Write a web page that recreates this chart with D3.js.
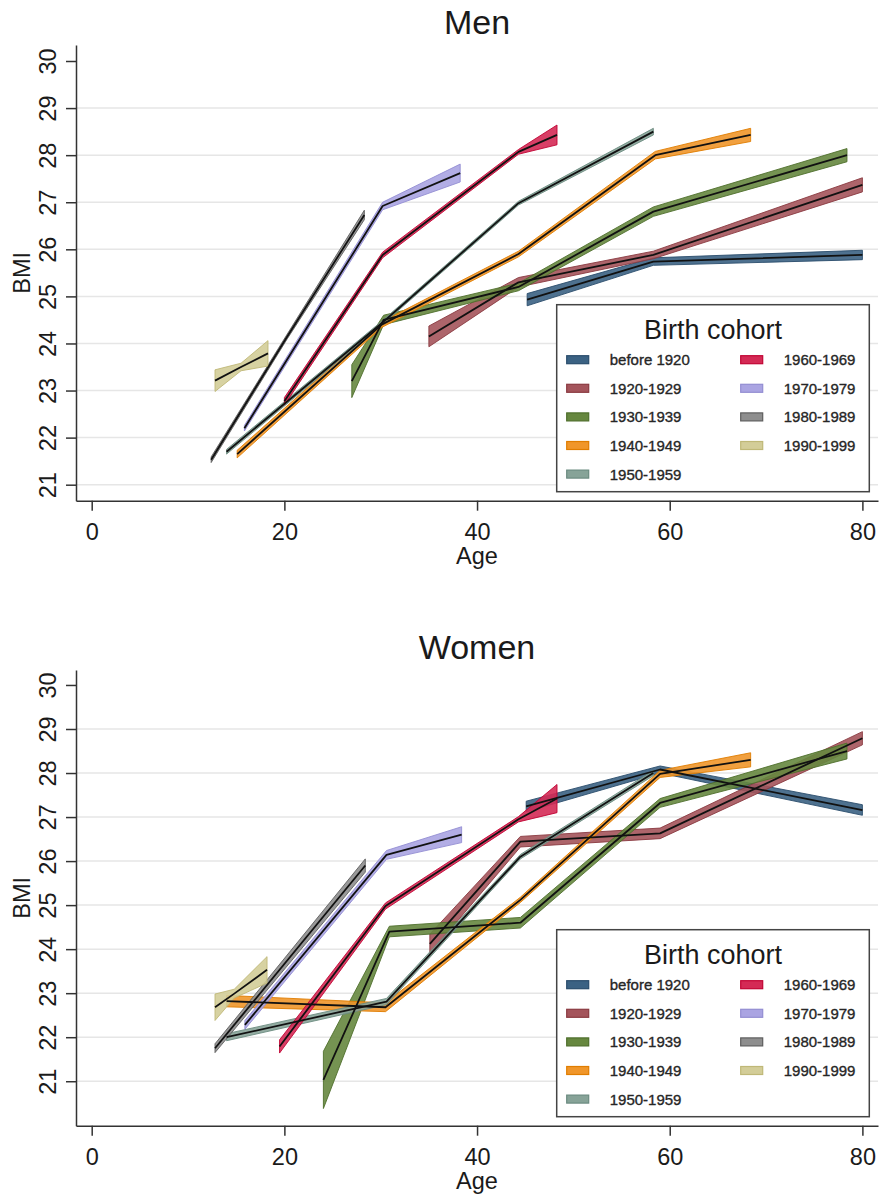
<!DOCTYPE html>
<html>
<head>
<meta charset="utf-8">
<script src="https://cdn.jsdelivr.net/npm/d3@7"></script>
<style>
  body { margin: 0; background: #fff; }
  text { font-family: "Liberation Sans", Arial, sans-serif; fill: #1a1a1a; }
</style>
</head>
<body>
<svg id="chart" width="882" height="1197"></svg>
<script>
// Birth cohorts and their colours
const cohorts = ["before 1920", "1920-1929", "1930-1939", "1940-1949", "1950-1959",
                 "1960-1969", "1970-1979", "1980-1989", "1990-1999"];
const cohortFill = ["#3b6283", "#a4545b", "#66873f", "#f0962a", "#87a398",
                    "#d42a55", "#aaa4e2", "#8e8e8e", "#d3cd98"];
const cohortEdge = ["#2a4d6c", "#8a3a41", "#4f6f2c", "#e07d00", "#6b8b80",
                    "#c10534", "#938dd2", "#5e5e5e", "#bfb877"];

const xTicks = [0, 20, 40, 60, 80];
const yTicks = [21, 22, 23, 24, 25, 26, 27, 28, 29, 30];
const gridTicks = [21, 22, 23, 24, 25, 26, 27, 28, 29];

// Each point: [age, predicted BMI, half-width of the confidence band]
// Men
const menBefore1920 = [[45.2, 24.93, 0.13], [58.3, 25.74, 0.08], [80.0, 25.88, 0.10]];
const men1920s = [[35.0, 24.15, 0.22], [44.3, 25.30, 0.10], [58.3, 25.88, 0.08], [80.0, 27.37, 0.15]];
const men1930s = [[27.0, 23.20, 0.35], [30.3, 24.50, 0.10], [44.3, 25.20, 0.08], [58.3, 26.80, 0.10], [78.4, 28.00, 0.14]];
const men1940s = [[15.1, 21.65, 0.08], [30.1, 24.40, 0.06], [44.3, 25.90, 0.06], [58.5, 28.00, 0.08], [68.4, 28.43, 0.14]];
const men1950s = [[14.0, 21.70, 0.05], [30.1, 24.43, 0.04], [44.3, 26.98, 0.04], [58.3, 28.50, 0.07]];
const men1960s = [[20.0, 22.77, 0.08], [30.2, 25.88, 0.06], [44.3, 28.07, 0.05], [48.3, 28.43, 0.21]];
const men1970s = [[15.85, 22.20, 0.06], [30.2, 26.92, 0.08], [38.25, 27.62, 0.19]];
const men1980s = [[12.4, 21.53, 0.06], [20.3, 24.15, 0.05], [28.3, 26.73, 0.10]];
const men1990s = [[12.8, 23.21, 0.23], [15.5, 23.50, 0.08], [18.3, 23.79, 0.27]];

// Women
const womenBefore1920 = [[45.1, 27.24, 0.12], [59.0, 28.08, 0.08], [80.0, 27.16, 0.12]];
const women1920s = [[35.1, 24.12, 0.22], [44.5, 26.44, 0.12], [59.0, 26.63, 0.12], [80.0, 28.79, 0.15]];
const women1930s = [[24.05, 21.03, 0.65], [30.9, 24.40, 0.12], [44.5, 24.60, 0.12], [59.0, 27.32, 0.10], [78.4, 28.50, 0.18]];
const women1940s = [[14.0, 22.82, 0.13], [30.5, 22.68, 0.10], [44.5, 25.12, 0.06], [59.0, 27.98, 0.08], [68.4, 28.30, 0.16]];
const women1950s = [[14.0, 22.00, 0.08], [30.6, 22.81, 0.07], [44.5, 26.10, 0.05], [58.3, 28.00, 0.06]];
const women1960s = [[19.5, 21.79, 0.15], [30.5, 24.98, 0.07], [44.3, 26.95, 0.06], [48.3, 27.42, 0.32]];
const women1970s = [[15.9, 22.28, 0.10], [30.6, 26.14, 0.10], [38.4, 26.60, 0.18]];
const women1980s = [[12.8, 21.75, 0.10], [28.4, 25.90, 0.15]];
const women1990s = [[12.8, 22.68, 0.30], [14.8, 22.99, 0.10], [18.2, 23.53, 0.30]];

const menSeries = [menBefore1920, men1920s, men1930s, men1940s, men1950s, men1960s, men1970s, men1980s, men1990s];
const womenSeries = [womenBefore1920, women1920s, women1930s, women1940s, women1950s, women1960s, women1970s, women1980s, women1990s];

const panels = [
  { title: "Men",   series: menSeries,   top: 45,  bottom: 500.7,  yDomain: [20.66, 30.34] },
  { title: "Women", series: womenSeries, top: 670, bottom: 1125.7, yDomain: [19.99, 30.34] }
];

const svg = d3.select("#chart");
const left = 76, right = 878;
const x = d3.scaleLinear().domain([-1.63, 81.62]).range([left, right]);

panels.forEach(p => {
  const y = d3.scaleLinear().domain(p.yDomain).range([p.bottom, p.top]);
  const g = svg.append("g");

  // horizontal grid
  g.append("g").selectAll("line").data(gridTicks).join("line")
    .attr("x1", left).attr("x2", right)
    .attr("y1", d => y(d)).attr("y2", d => y(d))
    .attr("stroke", "#e6e6e6").attr("stroke-width", 1.5);

  // confidence bands
  const band = d3.area()
    .x(d => x(d[0]))
    .y0(d => y(d[1] - d[2]))
    .y1(d => y(d[1] + d[2]));
  g.append("g").selectAll("path").data(p.series).join("path")
    .attr("d", band)
    .attr("fill", (d, i) => cohortFill[i])
    .attr("fill-opacity", 0.9)
    .attr("stroke", (d, i) => cohortEdge[i])
    .attr("stroke-width", 0.9)
    .attr("stroke-linejoin", "round");

  // fitted lines
  const line = d3.line().x(d => x(d[0])).y(d => y(d[1]));
  g.append("g").selectAll("path").data(p.series).join("path")
    .attr("d", line)
    .attr("fill", "none")
    .attr("stroke", "#111")
    .attr("stroke-width", 1.8)
    .attr("stroke-linejoin", "round");

  // y axis
  const yAxis = g.append("g").attr("transform", `translate(${left},0)`)
    .call(d3.axisLeft(y).tickValues(yTicks).tickSize(10).tickSizeOuter(0));
  yAxis.selectAll("text")
    .attr("transform", "rotate(-90)")
    .attr("x", 0).attr("y", -20.5).attr("dy", 0)
    .attr("text-anchor", "middle")
    .style("font-size", "23.5px");
  // x axis
  const xAxis = g.append("g").attr("transform", `translate(0,${p.bottom})`)
    .call(d3.axisBottom(x).tickValues(xTicks).tickSize(10).tickSizeOuter(0));
  xAxis.selectAll("text").attr("y", 39).attr("dy", 0).style("font-size", "23.5px");
  [yAxis, xAxis].forEach(a => {
    a.select(".domain").attr("stroke", "#333").attr("stroke-width", 1.5);
    a.selectAll(".tick line").attr("stroke", "#333").attr("stroke-width", 1.5);
    a.selectAll("text").attr("fill", "#1a1a1a").style("font-family", '"Liberation Sans", Arial, sans-serif');
  });

  // titles
  g.append("text").attr("x", (left + right) / 2).attr("y", p.top - 11)
    .attr("text-anchor", "middle").style("font-size", "34px").text(p.title);
  g.append("text").attr("x", (left + right) / 2).attr("y", p.bottom + 63)
    .attr("text-anchor", "middle").style("font-size", "23.5px").text("Age");
  g.append("text")
    .attr("transform", `translate(30,${(p.top + p.bottom) / 2}) rotate(-90)`)
    .attr("text-anchor", "middle").style("font-size", "23.5px").text("BMI");

  // legend
  const lx = 556.7, ly = p.bottom - 196, lw = 312.6, lh = 187;
  const lg = g.append("g").attr("transform", `translate(${lx},${ly})`);
  lg.append("rect").attr("width", lw).attr("height", lh)
    .attr("fill", "#fff").attr("stroke", "#444").attr("stroke-width", 1.5);
  lg.append("text").attr("x", lw / 2).attr("y", 34.5).attr("text-anchor", "middle")
    .style("font-size", "27px").text("Birth cohort");
  const item = lg.selectAll("g.item").data(cohorts).join("g").attr("class", "item")
    .attr("transform", (d, i) => {
      const col = i < 5 ? 0 : 1, row = i < 5 ? i : i - 5;
      return `translate(${col ? 184 : 10},${55 + row * 28.6})`;
    });
  item.append("rect").attr("x", 0).attr("y", -4).attr("width", 22).attr("height", 8)
    .attr("fill", (d, i) => cohortFill[i]).attr("stroke", (d, i) => cohortEdge[i]).attr("stroke-width", 1.2);
  item.append("text").attr("x", 43).attr("dy", "0.36em")
    .style("font-size", "15px").style("fill", "#262626")
    .style("stroke", "#262626").style("stroke-width", 0.35)
    .text(d => d);
});
</script>
</body>
</html>
